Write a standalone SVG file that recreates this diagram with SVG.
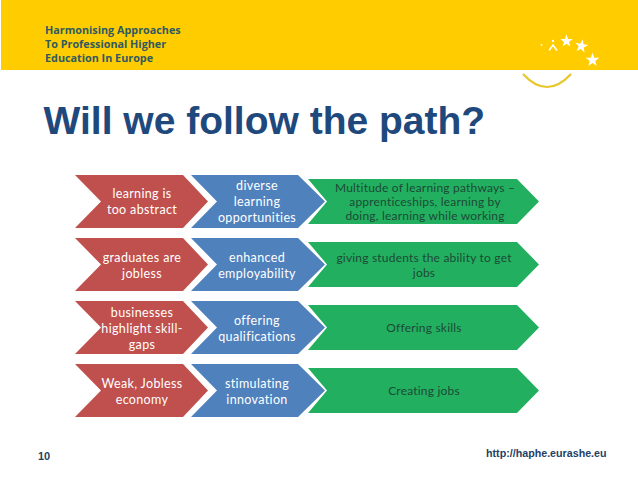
<svg xmlns="http://www.w3.org/2000/svg" width="638" height="479" viewBox="0 0 638 479">
<style>
.r{fill:#C0504D}.b{fill:#4F81BD}.g{fill:#22B060}
.lab{font-family:"Lato","Liberation Sans",sans-serif;font-size:12.500px;letter-spacing:.35px;fill:#fff;text-anchor:middle}
.gl{font-family:"Lato","Liberation Sans",sans-serif;font-size:12px;letter-spacing:.2px;fill:#1c4a35;text-anchor:middle}
.hd{font-family:"Open Sans","Liberation Sans",sans-serif;font-weight:700;font-size:10.800px;fill:#2f5a63}
.st{fill:#fff}
</style>
<defs>
<polygon id="cr" points="-108,-26.5 -82,0 -108,26.5 0,26.5 25,0 0,-26.5"/>
<polygon id="cb" points="-107,-26.5 -81,0 -107,26.5 0,26.5 27,0 0,-26.5"/>
<polygon id="cg" points="-209,-22.5 -190,0 -209,22.5 0,22.5 22,0 0,-22.5"/>
</defs>
<rect width="638" height="479" fill="#fff"/>
<g id="header">
<rect x="1" y="0" width="637" height="70" fill="#FFCC00"/>
<text class="hd" x="45" y="34">Harmonising Approaches</text>
<text class="hd" x="45" y="48">To Professional Higher</text>
<text class="hd" x="45" y="62">Education In Europe</text>
<circle class="st" cx="541.5" cy="45" r="0.9"/>
<path d="M549 50.5 L553 45 L557 50.5" fill="none" stroke="#fff" stroke-width="1.6"/>
<circle class="st" cx="553" cy="41" r="1.2"/>
<polygon class="st" transform="translate(566.5 41)" points="0,-6.5 1.6,-2 6.2,-2 2.5,1 3.8,5.5 0,2.8 -3.8,5.5 -2.5,1 -6.2,-2 -1.6,-2"/>
<polygon class="st" transform="translate(581.5 46) rotate(10) scale(1.05)" points="0,-6.5 1.6,-2 6.2,-2 2.5,1 3.8,5.5 0,2.8 -3.8,5.5 -2.5,1 -6.2,-2 -1.6,-2"/>
<polygon class="st" transform="translate(592.5 60) scale(1.1)" points="0,-6.5 1.6,-2 6.2,-2 2.5,1 3.8,5.5 0,2.8 -3.8,5.5 -2.5,1 -6.2,-2 -1.6,-2"/>
<path d="M523 74 Q547 100 571 74" fill="none" stroke="#E8C62A" stroke-width="2.200"/>
</g>
<text id="title" x="43.500" y="134" font-family="Liberation Sans, Arial, sans-serif" font-weight="700" font-size="39" fill="#1F497D">Will we follow the path?</text>
<g id="connectors"/>
<g id="r1" transform="translate(183 201.500)"><use href="#cr" class="r"/><text class="lab" x="-41" y="-4">learning is</text><text class="lab" x="-41" y="12">too abstract</text></g>
<g id="b1" transform="translate(298 201.500)"><use href="#cb" class="b"/><text class="lab" x="-41" y="-12">diverse</text><text class="lab" x="-41" y="4">learning</text><text class="lab" x="-41" y="20">opportunities</text></g>
<g id="g1" transform="translate(517 201.500)"><use href="#cg" class="g"/><text class="gl" x="-92" y="-10">Multitude of learning pathways –</text><text class="gl" x="-92" y="4.500">apprenticeships, learning by</text><text class="gl" x="-92" y="18.500">doing, learning while working</text></g>
<g id="r2" transform="translate(183 264.500)"><use href="#cr" class="r"/><text class="lab" x="-41" y="-3">graduates are</text><text class="lab" x="-41" y="13">jobless</text></g>
<g id="b2" transform="translate(298 264.500)"><use href="#cb" class="b"/><text class="lab" x="-41" y="-3">enhanced</text><text class="lab" x="-41" y="13">employability</text></g>
<g id="g2" transform="translate(517 264.500)"><use href="#cg" class="g"/><text class="gl" x="-93" y="-3">giving students the ability to get</text><text class="gl" x="-93" y="12">jobs</text></g>
<g id="r3" transform="translate(183 327.500)"><use href="#cr" class="r"/><text class="lab" x="-41" y="-11">businesses</text><text class="lab" x="-41" y="5">highlight skill-</text><text class="lab" x="-41" y="21">gaps</text></g>
<g id="b3" transform="translate(298 327.500)"><use href="#cb" class="b"/><text class="lab" x="-41" y="-3">offering</text><text class="lab" x="-41" y="13">qualifications</text></g>
<g id="g3" transform="translate(517 327.500)"><use href="#cg" class="g"/><text class="gl" x="-93" y="4">Offering skills</text></g>
<g id="r4" transform="translate(183 390.500)"><use href="#cr" class="r"/><text class="lab" x="-41" y="-3">Weak, Jobless</text><text class="lab" x="-41" y="13">economy</text></g>
<g id="b4" transform="translate(298 390.500)"><use href="#cb" class="b"/><text class="lab" x="-41" y="-3">stimulating</text><text class="lab" x="-41" y="13">innovation</text></g>
<g id="g4" transform="translate(517 390.500)"><use href="#cg" class="g"/><text class="gl" x="-93" y="4">Creating jobs</text></g>
<text id="page" x="38" y="460" font-family="Liberation Sans, Arial, sans-serif" font-weight="700" font-size="11" fill="#1F3F66">10</text>
<text id="url" x="486" y="457" font-family="Liberation Sans, Arial, sans-serif" font-weight="700" font-size="10.700" fill="#1F3F66">http://haphe.eurashe.eu</text>
</svg>
